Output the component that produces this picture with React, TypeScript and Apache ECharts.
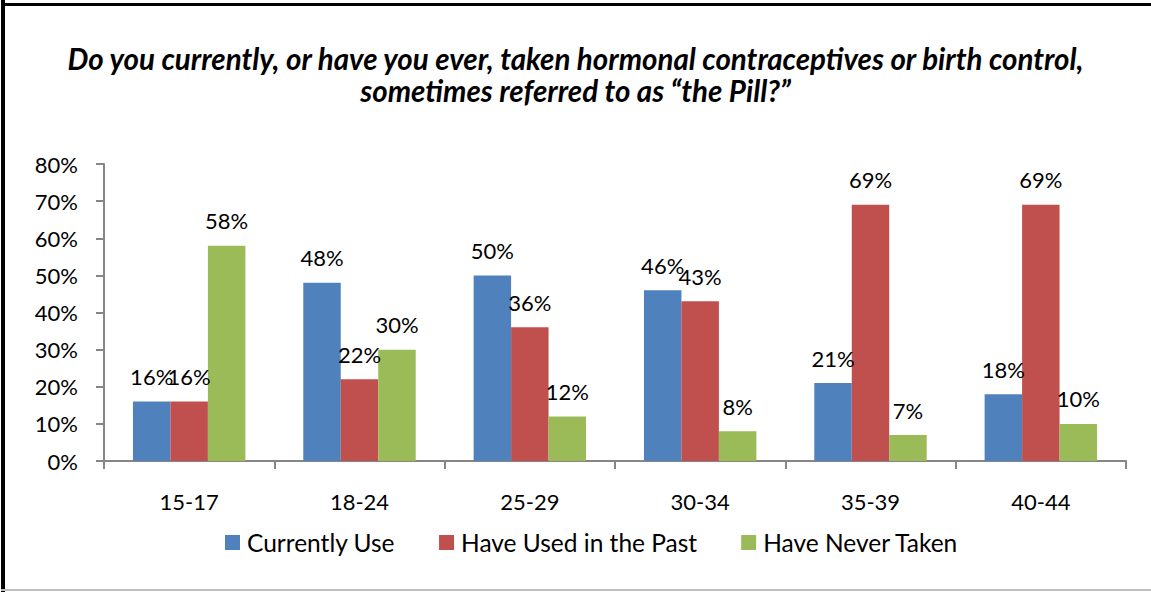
import React, { useEffect, useRef } from "react";
import * as echarts from "echarts";

const categories = ["15-17", "18-24", "25-29", "30-34", "35-39", "40-44"];
const currentlyUse = [16, 48, 50, 46, 21, 18];
const usedInPast = [16, 22, 36, 43, 69, 69];
const neverTaken = [58, 30, 12, 8, 7, 10];
const seriesNames = ["Currently Use", "Have Used in the Past", "Have Never Taken"];
const titleLines = [
  "Do you currently, or have you ever, taken hormonal contraceptives or birth control,",
  "sometimes referred to as \u201cthe Pill?\u201d",
];

const FONT = "Lato, 'Open Sans', sans-serif";

export default function App() {
  const ref = useRef<HTMLDivElement>(null);
  useEffect(() => {
    document.body.style.margin = "0";
    const chart = echarts.init(ref.current!, null, { renderer: "svg" });
    const label = {
      show: true,
      position: "top",
      distance: 14,
      formatter: "{c}%",
      color: "#000",
      fontSize: 22,
      fontFamily: FONT,
    };
    const colors = ["#4F81BD", "#C0504D", "#9BBB59"];
    const data = [currentlyUse, usedInPast, neverTaken];
    chart.setOption({
      animation: false,
      textStyle: { fontFamily: FONT },
      title: {
        text: titleLines.join("\n"),
        left: "center",
        top: 37,
        textStyle: {
          fontSize: 29.5,
          fontWeight: "bold",
          fontStyle: "italic",
          fontFamily: FONT,
          color: "#000",
          lineHeight: 32,
        },
      },
      legend: {
        bottom: 32,
        left: 220,
        itemWidth: 15,
        itemHeight: 15,
        itemGap: 44,
        icon: "rect",
        textStyle: { fontSize: 24.5, color: "#000", fontFamily: FONT, padding: [0, 0, 0, 2] },
        data: seriesNames,
      },
      grid: { left: 104, right: 25, top: 164, bottom: 131, containLabel: false },
      xAxis: {
        type: "category",
        data: categories,
        axisLine: { lineStyle: { color: "#868686", width: 2 } },
        axisTick: { show: true, length: 8, lineStyle: { color: "#868686", width: 2 } },
        axisLabel: { color: "#000", fontSize: 22, margin: 29, fontFamily: FONT },
      },
      yAxis: {
        type: "value",
        min: 0,
        max: 80,
        interval: 10,
        axisLine: { show: true, lineStyle: { color: "#868686", width: 2 } },
        axisTick: { show: true, length: 8, lineStyle: { color: "#868686", width: 2 } },
        splitLine: { show: false },
        axisLabel: { color: "#000", fontSize: 22, margin: 26, formatter: "{value}%", fontFamily: FONT },
      },
      series: seriesNames.map((name, i) => ({
        name,
        type: "bar",
        data: data[i],
        barGap: "0%",
        barCategoryGap: "34%",
        itemStyle: { color: colors[i] },
        label,
      })),
      graphic: [
        { type: "rect", shape: { x: 1, y: 0, width: 4, height: 592 }, style: { fill: "#000" } },
        { type: "rect", shape: { x: 1, y: 3, width: 1150, height: 3 }, style: { fill: "#000" } },
        { type: "rect", shape: { x: 1, y: 589, width: 1150, height: 2 }, style: { fill: "#BFBFBF" } },
      ],
    });
    return () => chart.dispose();
  }, []);
  return <div ref={ref} style={{ width: 1151, height: 592 }} />;
}
